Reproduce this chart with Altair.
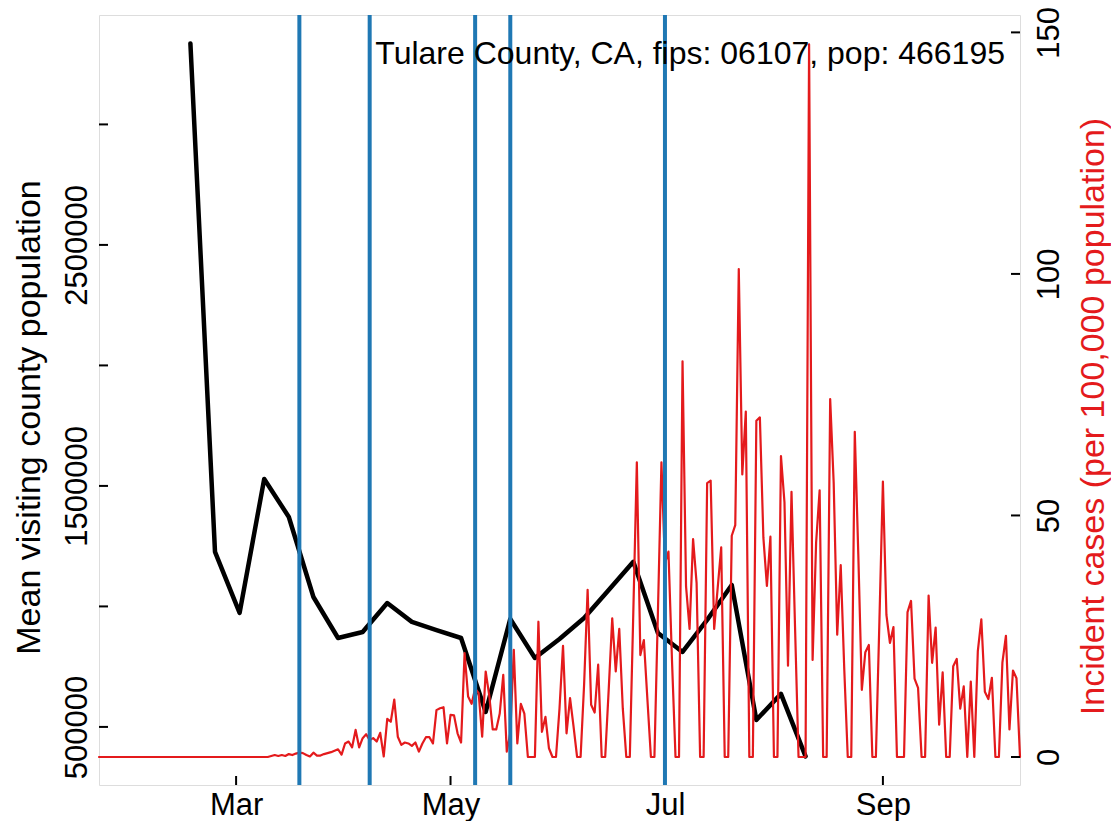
import altair as alt
import pandas as pd

# ---------------- data ----------------
title_text = "Tulare County, CA, fips: 06107, pop: 466195"

# daily incident cases per 100,000, 2020-01-22 .. 2020-10-10
red_values = [
    0, 0, 0, 0, 0, 0, 0, 0, 0, 0, 0, 0, 0, 0, 0, 0, 0, 0, 0, 0,
    0, 0, 0, 0, 0, 0, 0, 0, 0, 0, 0, 0, 0, 0, 0, 0, 0, 0, 0, 0,
    0, 0, 0, 0, 0, 0, 0, 0, 0,
    0.2, 0.4, 0.2, 0.4, 0.2, 0.6, 0.4, 0.7, 0.9, 0.8,
    0.4, 0.1, 0.9, 0.3, 0.3, 0.6, 0.8, 1.0, 1.3, 1.6,
    0.5, 2.8, 3.2, 2.0, 5.6, 2.0, 3.9, 4.7, 3.5, 3.9,
    3.2, 5.0, 0.1, 7.9, 7.3, 11.9, 4.2, 2.5, 3.0, 2.8,
    2.3, 3.0, 1.1, 2.8, 4.1, 4.1, 2.8, 9.7, 10.1, 10.3,
    2.8, 8.7, 8.6, 4.9, 3.0, 21.5, 12.5, 11.0, 14.2, 13.2,
    4.2, 17.7, 12.8, 5.7, 5.7, 9.0, 17.0, 1.1, 5.0, 22.2,
    2.8, 11.0, 9.0, 0, 0, 0, 28.0, 5.2, 8.3, 1.8,
    0, 0, 10.0, 23.0, 4.9, 12.2, 6.3, 0, 0, 15.0,
    34.6, 10.8, 9.2, 19.1, 0, 0, 14.0, 28.7, 17.7, 26.5,
    10.1, 0, 0, 30.0, 61.0, 21.1, 24.2, 12.0, 0, 0,
    30.0, 61.0, 40.0, 42.5, 20.0, 0, 0, 81.9, 35.3, 26.5,
    45.1, 36.0, 0, 0, 56.7, 57.2, 26.5, 35.0, 43.4, 0,
    0, 45.8, 48.0, 101.0, 58.5, 71.5, 0, 0, 69.6, 70.3,
    45.4, 35.4, 45.6, 0, 0, 62.3, 52.7, 18.9, 54.9, 27.0,
    0, 0, 0, 147.5, 20.1, 44.4, 55.2, 0, 0, 74.1,
    56.7, 25.3, 39.7, 18.3, 0, 0, 67.3, 42.0, 13.9, 21.7,
    23.2, 0, 0, 28.0, 57.0, 29.4, 23.6, 26.9, 0, 0,
    0, 30.0, 32.3, 16.2, 14.3, 0, 0, 33.4, 19.5, 26.8,
    6.7, 17.5, 0, 0, 18.8, 20.3, 10.0, 14.6, 0, 15.6,
    0, 21.9, 28.5, 13.5, 12.0, 16.4, 0, 0, 19.6, 25.1,
    5.7, 17.9, 16.3, 0,
]
red_dates = pd.date_range("2020-01-22", periods=len(red_values), freq="D").strftime("%Y-%m-%d").tolist()

# weekly mean visiting county population
black_values = [
    3336000, 1226000, 973000, 1529000, 1371000, 1039000, 869000, 894000,
    1014000, 936000, 902000, 869000, 562000, 948000, 786000, 865000,
    952000, 1068000, 1185000, 890000, 811000, 944000, 1089000, 529000,
    637000, 378000,
]
black_dates = pd.date_range("2020-02-17", periods=len(black_values), freq="7D").strftime("%Y-%m-%d").tolist()

event_dates = ["2020-03-19", "2020-04-08", "2020-05-08", "2020-05-18", "2020-07-01"]
month_ticks = ["2020-03-01", "2020-05-01", "2020-07-01", "2020-09-01"]
left_tick_values = [500000, 1000000, 1500000, 2000000, 2500000, 3000000]
left_label_values = [500000, 1500000, 2500000]
right_tick_values = [0, 50, 100, 150]

# ---------------- styling ----------------
FONT = "Liberation Sans"
RED = "#E41A1C"
BLUE = "#1F78B4"
W, H = 921, 770
TICK = 9


def dt(s):
    y, m, d = (int(p) for p in s.split("-"))
    return alt.DateTime(year=y, month=m, date=d, utc=True)


df_red = pd.DataFrame({"date": red_dates, "cases": red_values})
df_black = pd.DataFrame({"date": black_dates, "pop": black_values})
df_events = pd.DataFrame({"date": event_dates})
df_months = pd.DataFrame({"date": month_ticks})
df_lt = pd.DataFrame({"v": left_tick_values})
df_rt = pd.DataFrame({"v": right_tick_values})

xscale = alt.Scale(type="utc", domain=[dt("2020-01-22"), dt("2020-10-10")], nice=False)
xaxis = alt.Axis(
    values=[dt(s) for s in month_ticks],
    labelExpr="utcFormat(datum.value, '%b')",
    labelFont=FONT, labelFontSize=31, labelColor="black", labelAngle=0,
    labelAlign="center", labelBaseline="alphabetic", labelPadding=29,
    labelOverlap=False, labelFlush=False,
    domain=False, ticks=False, tickSize=0, grid=False, title=None,
)

yl_scale = alt.Scale(domain=[259000, 3454000], nice=False, zero=False)
yl_axis = alt.Axis(
    orient="left", values=left_label_values, format="d",
    labelFont=FONT, labelFontSize=31, labelColor="black", labelAngle=270,
    labelAlign="center", labelBaseline="alphabetic", labelPadding=13,
    labelOverlap=False, labelFlush=False,
    domain=False, ticks=False, tickSize=0, grid=False,
    title="Mean visiting county population", titleFont=FONT, titleFontSize=34,
    titleFontWeight="normal", titleColor="black", titleAngle=270,
    titleAlign="center", titleBaseline="alphabetic", titleX=-60, titleY=402,
)

yr_scale = alt.Scale(domain=[-5.8, 153.6], nice=False, zero=False)
yr_axis = alt.Axis(
    orient="right", values=right_tick_values, format="d",
    labelFont=FONT, labelFontSize=31, labelColor="black", labelAngle=270,
    labelAlign="center", labelBaseline="alphabetic", labelPadding=38,
    labelOverlap=False, labelFlush=False,
    domain=False, ticks=False, tickSize=0, grid=False,
    title="Incident cases (per 100,000 population)", titleFont=FONT,
    titleFontSize=34, titleFontWeight="normal", titleColor=RED, titleAngle=270,
    titleAlign="center", titleBaseline="alphabetic", titleX=83, titleY=401,
)

black = alt.Chart(df_black).mark_line(
    color="black", strokeWidth=4.5, strokeJoin="round", strokeCap="round"
).encode(
    x=alt.X("date:T", scale=xscale, axis=xaxis),
    y=alt.Y("pop:Q", scale=yl_scale, axis=yl_axis),
)
left_ticks = alt.Chart(df_lt).mark_rule(color="black", strokeWidth=2).encode(
    y=alt.Y("v:Q", scale=yl_scale, axis=yl_axis),
    x=alt.value(0), x2=alt.value(TICK),
)
left_group = alt.layer(black, left_ticks)

red = alt.Chart(df_red).mark_line(
    color=RED, strokeWidth=2.2, strokeJoin="round", strokeCap="round"
).encode(
    x=alt.X("date:T", scale=xscale, axis=xaxis),
    y=alt.Y("cases:Q", scale=yr_scale, axis=yr_axis),
)
right_ticks = alt.Chart(df_rt).mark_rule(color="black", strokeWidth=2).encode(
    y=alt.Y("v:Q", scale=yr_scale, axis=yr_axis),
    x=alt.value(W - TICK), x2=alt.value(W),
)
right_group = alt.layer(red, right_ticks)

bottom_ticks = alt.Chart(df_months).mark_rule(color="black", strokeWidth=2).encode(
    x=alt.X("date:T", scale=xscale, axis=xaxis),
    y=alt.value(H - TICK), y2=alt.value(H),
)
events = alt.Chart(df_events).mark_rule(color=BLUE, strokeWidth=4).encode(
    x=alt.X("date:T", scale=xscale, axis=xaxis),
)

chart = alt.layer(left_group, right_group, bottom_ticks, events).resolve_scale(
    y="independent"
).properties(
    width=W, height=H,
    padding={"left": 91, "top": 7, "right": 91, "bottom": 36},
    autosize=alt.AutoSizeParams(type="none"),
    title=alt.TitleParams(
        text=title_text, anchor="end", frame="group", orient="top", offset=0,
        dx=-15, dy=89, baseline="alphabetic", font=FONT, fontSize=32,
        fontWeight="normal", color="black",
    ),
).configure_view(stroke="black", strokeWidth=2).configure(background="white")

chart.save("out.html", embed_options={"renderer": "svg", "actions": False})
